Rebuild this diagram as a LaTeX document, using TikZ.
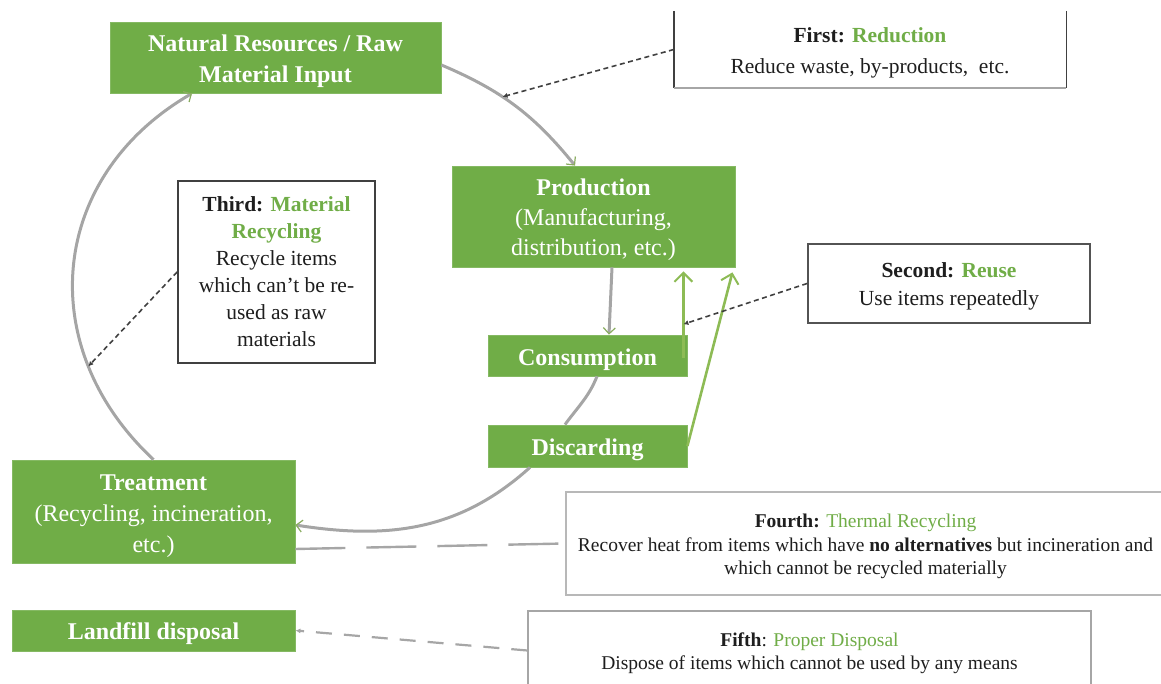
\documentclass[tikz,border=0pt]{standalone}
\usepackage{fontspec}
\setmainfont{Liberation Serif}
\usetikzlibrary{arrows.meta,calc}
\definecolor{boxgreen}{HTML}{70AD47}
\definecolor{txtgreen}{HTML}{70AD47}
\definecolor{arrgreen}{HTML}{8DBB55}
\definecolor{cyclegray}{HTML}{A5A5A5}
\definecolor{darkline}{HTML}{404040}
\definecolor{lightline}{HTML}{A6A6A6}
\definecolor{bodytext}{HTML}{1E1E1E}
\newcommand\tstrut[1]{\rule{0pt}{#1}}
\begin{document}
\begin{tikzpicture}[x=1pt,y=1pt,
  gbox/.style={fill=boxgreen, draw=boxgreen!85!white, line width=0.8pt, text=white, align=center, inner sep=0pt, font=\fontsize{24}{31}\selectfont},
  wbox/.style={fill=white, text=bodytext, align=center, inner sep=0pt, font=\fontsize{21.5}{28}\selectfont},
  cycline/.style={draw=cyclegray, line width=3pt},
  cyc/.style={cycline, -{Straight Barb[length=6pt,width=12pt,line width=1.2pt,color=arrgreen!75!gray]}},
  garr/.style={draw=arrgreen, line width=2.6pt, -{Straight Barb[length=9pt,width=18pt,line width=2pt]}},
  dotarr/.style={draw=darkline, line width=1.6pt, dash pattern=on 5pt off 3.5pt, -{Latex[length=5pt,width=5pt]}},
  ldash/.style={draw=lightline, line width=2.4pt, dash pattern=on 50pt off 21pt},
  sdash/.style={draw=lightline, line width=2.2pt, dash pattern=on 16pt off 12pt}
]
\useasboundingbox (0,0) rectangle (1161,684);

% green process boxes
\node[gbox, minimum width=331pt, minimum height=71pt] (nat) at (275.5,626.5)
  {\tstrut{25pt}\textbf{Natural Resources / Raw}\\\textbf{Material Input}};
\node[gbox, minimum width=283pt, minimum height=101pt, font=\fontsize{24}{30}\selectfont] (prod) at (593.5,467.5)
  {\tstrut{24pt}\textbf{Production}\\(Manufacturing,\\distribution, etc.)};
\node[gbox, minimum width=199pt, minimum height=41pt] (cons) at (587.5,328.5) {\tstrut{25pt}\textbf{Consumption}};
\node[gbox, minimum width=199pt, minimum height=42pt] (disc) at (587.5,238) {\tstrut{24pt}\textbf{Discarding}};
\node[gbox, minimum width=283pt, minimum height=103pt] (treat) at (153.5,172.5)
  {\tstrut{26pt}\textbf{Treatment}\\(Recycling, incineration,\\etc.)};
\node[gbox, minimum width=283pt, minimum height=41pt] (land) at (153.5,53.5) {\tstrut{24pt}\textbf{Landfill disposal}};

% white description boxes
\node[wbox, minimum width=392pt, minimum height=77pt, font=\fontsize{21.5}{31}\selectfont] (first) at (870,634.5)
  {\tstrut{22pt}\textbf{First:} \textcolor{txtgreen}{\textbf{Reduction}}\\Reduce waste, by-products,\ \ etc.};
\draw[darkline, line width=1.4pt] (first.north west) -- (first.south west);
\draw[darkline, line width=1.4pt] (first.north east) -- (first.south east);
\draw[lightline, line width=2pt] (first.south west) -- (first.south east);

\node[wbox, draw=darkline!90, line width=1.8pt, minimum width=282pt, minimum height=79pt] (second) at (949,400.5)
  {\tstrut{21pt}\textbf{Second:} \textcolor{txtgreen}{\textbf{Reuse}}\\Use items repeatedly};
\node[wbox, draw=darkline, line width=1.8pt, minimum width=197pt, minimum height=182pt, font=\fontsize{21.5}{27}\selectfont] (third) at (276.5,412)
  {\textbf{Third:} \textcolor{txtgreen}{\textbf{Material}}\\\textcolor{txtgreen}{\textbf{Recycling}}\\Recycle items\\which can't be re-\\used as raw\\materials};
\node[wbox, draw=lightline!80, line width=1.8pt, minimum width=599pt, minimum height=103pt, font=\fontsize{19.5}{23.5}\selectfont] (fourth) at (865.5,140.5)
  {\tstrut{20pt}\textbf{Fourth:} \textcolor{txtgreen}{Thermal Recycling}\\Recover heat from items which have \textbf{no alternatives} but incineration and\\which cannot be recycled materially};
\node[wbox, draw=lightline, line width=1.6pt, minimum width=563pt, minimum height=79pt, font=\fontsize{19.5}{23}\selectfont] (fifth) at (809.5,33.5)
  {\tstrut{19pt}\textbf{Fifth}: \textcolor{txtgreen}{Proper Disposal}\\Dispose of items which cannot be used by any means};

% the cycle
\draw[cyc] ([yshift=-7.5pt]nat.east) to[out=-23,in=129] coordinate[pos=0.4] (pA) ([xshift=-18.5pt]prod.north);
\draw[cyc] ([xshift=18.5pt]prod.south) -- ([xshift=21.5pt]cons.north);
\draw[cycline] ([xshift=9.5pt]cons.south) to[out=-112,in=54] ([xshift=-22.5pt]disc.north);
\draw[cyc] ([xshift=-57.5pt]disc.south) to[out=222,in=-9] ([yshift=-13.5pt]treat.east);
\draw[cyc] (treat.north) to[out=137,in=210,looseness=1.15] coordinate[pos=0.25] (pE) ([xshift=-83.5pt]nat.south);

% reuse arrows
\draw[garr] ([xshift=-4pt,yshift=-2.5pt]cons.east) -- coordinate[pos=0.39] (pG) ($(cons.east |- prod.south)+(-4,-4)$);
\draw[garr] (disc.east) -- ($(prod.south east)+(-3,-5)$);

% callouts
\draw[dotarr] (first.west) -- (pA);
\draw[dotarr] (second.west) -- (pG);
\draw[dotarr] (third.west) -- (pE);
\draw[ldash] ([yshift=-37.5pt]treat.east) -- (fourth.west);
\draw[sdash, -{Latex[length=5pt,width=5pt]}] (fifth.west) -- (land.east);
\end{tikzpicture}
\end{document}
